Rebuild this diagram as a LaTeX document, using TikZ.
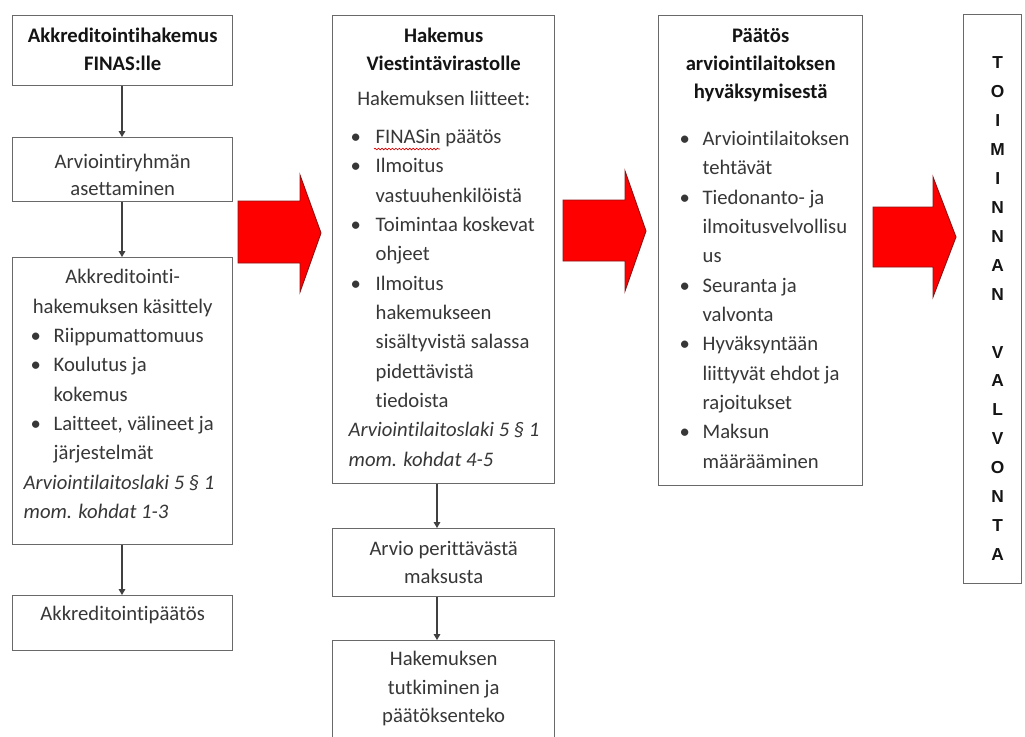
\documentclass[tikz,border=0pt]{standalone}
\usepackage{fontspec}
\setmainfont{Carlito}[Ligatures=NoCommon]
\newfontfamily\lettfont{Liberation Sans}
\usetikzlibrary{arrows.meta,decorations.pathmorphing}
\definecolor{boxline}{RGB}{105,105,105}
\definecolor{txt}{RGB}{55,55,55}
\definecolor{txtb}{RGB}{20,20,20}
\definecolor{arrred}{RGB}{255,0,0}
\definecolor{arrline}{RGB}{140,20,20}
\newlength\myblpos
\newlength\mybltext
\newcommand\bl[1]{\makebox[\mybltext][l]{\hspace{\myblpos}\textbullet}#1}
\newcommand\cn[1]{\hspace*{\mybltext}#1}
\newcommand\fl[1]{\rule{0pt}{#1}}
\newcommand\lt[1]{\hspace*{25.5pt}\makebox[0pt]{#1}}
\tikzset{
  box/.style={draw=boxline, line width=1pt, inner sep=0pt, anchor=north west,
    fill=white, text=txt, font=\fontsize{15.5}{22}\selectfont},
  conn/.style={draw=black!75, line width=0.8pt, -{Triangle[width=5pt,length=4.5pt]}},
  bigarrow/.style={fill=arrred, draw=arrline, line width=0.7pt, line join=miter},
  squiggle/.style={draw=red!85!black, line width=0.5pt, decorate,
    decoration={snake, amplitude=0.6pt, segment length=2.6pt}},
}
\begin{document}
\begin{tikzpicture}[x=0.75pt,y=-0.75pt]
\useasboundingbox (0,0) rectangle (1025,736);
\fill[white] (0,0) rectangle (1025,736);
\clip (0,0) rectangle (1025,736);

% ---------- column 1 ----------
\node[box] (b1) at (12,15) {\parbox[t][52.5pt][t]{165pt}{\centering\bfseries\color{txtb}%
  \fl{20pt}Akkreditointihakemus\\[-0.8pt]FINAS:lle\par}};

\node[box] (b2) at (12,137) {\parbox[t][48pt][t]{165pt}{\centering
  \fl{23.25pt}Arviointiryhmän\\[-1.75pt]asettaminen\par}};

\node[box] (b3) at (12,257) {\parbox[t][215.25pt][t]{165pt}{%
  \setlength\myblpos{13.5pt}\setlength\mybltext{30.75pt}%
  {\centering\fl{19.5pt}Akkreditointi-\\hakemuksen käsittely\par}
  \raggedright
  \bl{Riippumattomuus}\\
  \bl{Koulutus ja}\\
  \cn{kokemus}\\
  \bl{Laitteet, välineet ja}\\
  \cn{järjestelmät}\\
  \itshape\hspace*{8.25pt}Arviointilaitoslaki 5 § 1\\
  \hspace*{8.25pt}mom. kohdat 1-3\par}};

\node[box] (b4) at (12,595) {\parbox[t][41.25pt][t]{165pt}{\centering
  \fl{18.75pt}Akkreditointipäätös\par}};

% ---------- column 2 ----------
\node[box] (b5) at (332,15) {\parbox[t][351pt][t]{166.5pt}{%
  \setlength\myblpos{13.5pt}\setlength\mybltext{32.25pt}%
  {\centering\bfseries\color{txtb}\fl{20pt}Hakemus\\[-0.8pt]Viestintävirastolle\par}
  \vspace{4.25pt}
  {\centering Hakemuksen liitteet:\par}
  \vspace{6.5pt}
  \raggedright
  \bl{FINASin päätös}\\
  \bl{Ilmoitus}\\
  \cn{vastuuhenkilöistä}\\
  \bl{Toimintaa koskevat}\\
  \cn{ohjeet}\\
  \bl{Ilmoitus}\\
  \cn{hakemukseen}\\
  \cn{sisältyvistä salassa}\\
  \cn{pidettävistä}\\
  \cn{tiedoista}\\
  \itshape\hspace*{12pt}Arviointilaitoslaki 5 § 1\\
  \hspace*{12pt}mom. kohdat 4-5\par}};

\node[box] (b6) at (332,528) {\parbox[t][51pt][t]{166.5pt}{\centering
  \fl{20.25pt}Arvio perittävästä\\[-1pt]maksusta\par}};

\node[box] (b7) at (332,640) {\parbox[t][82.5pt][t]{166.5pt}{\centering
  \fl{18.75pt}Hakemuksen\\[-0.6pt]tutkiminen ja\\[-0.6pt]päätöksenteko\par}};

% ---------- column 3 ----------
\node[box] (b8) at (658,15) {\parbox[t][352.5pt][t]{153pt}{%
  \setlength\myblpos{15.75pt}\setlength\mybltext{33pt}%
  {\centering\bfseries\color{txtb}\fl{20pt}Päätös\\[-1pt]arviointilaitoksen\\[-1pt]hyväksymisestä\par}
  \vspace{13.25pt}
  \raggedright
  \bl{Arviointilaitoksen}\\
  \cn{tehtävät}\\
  \bl{Tiedonanto- ja}\\
  \cn{ilmoitusvelvollisu}\\
  \cn{us}\\
  \bl{Seuranta ja}\\
  \cn{valvonta}\\
  \bl{Hyväksyntään}\\
  \cn{liittyvät ehdot ja}\\
  \cn{rajoitukset}\\
  \bl{Maksun}\\
  \cn{määrääminen}\par}};

% ---------- column 4 ----------
\node[box] (b9) at (963,14) {\parbox[t][426.75pt][t]{43.5pt}{%
  \lettfont\bfseries\fontsize{13}{21.7}\selectfont\color{txtb}\raggedright
  \lt{\fl{40.5pt}T}\\
  \lt{O}\\
  \lt{I}\\
  \lt{M}\\
  \lt{I}\\
  \lt{N}\\
  \lt{N}\\
  \lt{A}\\
  \lt{N}\\
  \mbox{}\\
  \lt{V}\\
  \lt{A}\\
  \lt{L}\\
  \lt{V}\\
  \lt{O}\\
  \lt{N}\\
  \lt{T}\\
  \lt{A}\par}};

% ---------- connectors ----------
\coordinate (cx1) at (122,0);
\coordinate (cx2) at (437,0);
\draw[conn] (cx1 |- b1.south) -- (cx1 |- b2.north);
\draw[conn] (cx1 |- b2.south) -- (cx1 |- b3.north);
\draw[conn] (cx1 |- b3.south) -- (cx1 |- b4.north);
\draw[conn] (cx2 |- b5.south) -- (cx2 |- b6.north);
\draw[conn] (cx2 |- b6.south) -- (cx2 |- b7.north);

% ---------- big red arrows ----------
\draw[bigarrow] (238,201) -- (300,201) -- (300,175) -- (321,233) -- (300,292) -- (300,263) -- (238,263) -- cycle;
\draw[bigarrow] (563,200) -- (625,200) -- (625,171) -- (646,231) -- (625,291) -- (625,261) -- (563,261) -- cycle;
\draw[bigarrow] (873,207) -- (933,207) -- (933,177) -- (956,237) -- (933,297) -- (933,267) -- (873,267) -- cycle;

% spell-check squiggle under "FINASin"
\draw[squiggle] (374,149) -- (440,149);
\end{tikzpicture}
\end{document}
